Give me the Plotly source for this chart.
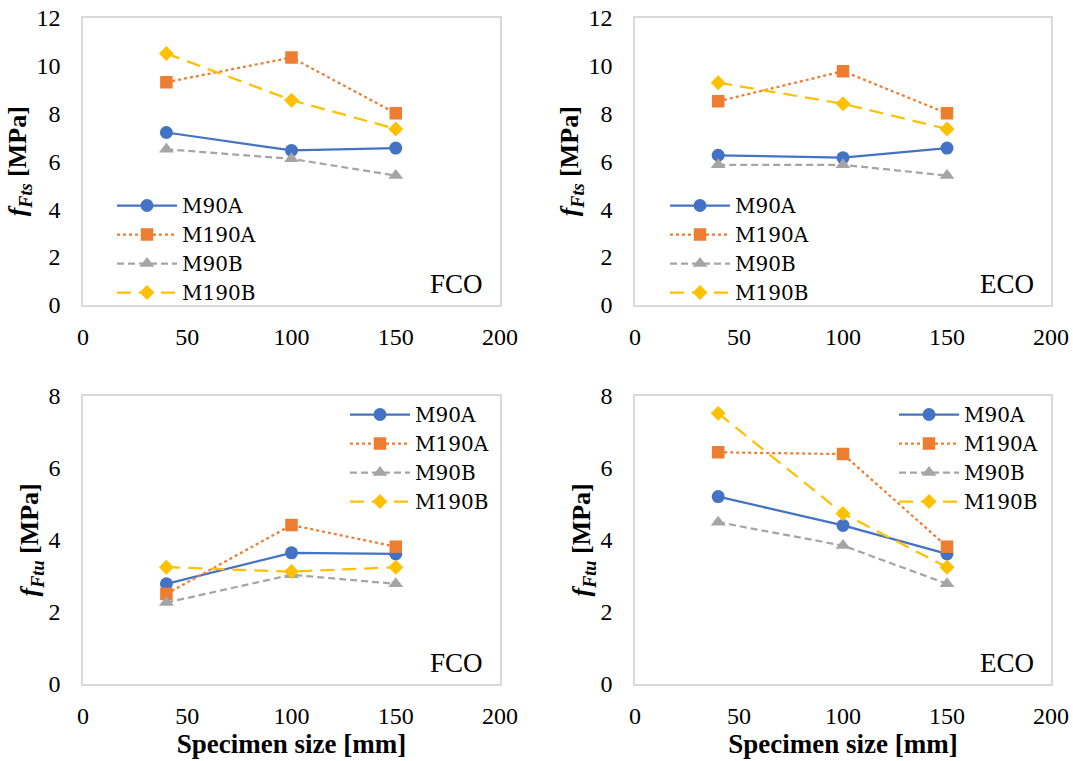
import plotly.graph_objects as go

# ---------------- data ----------------
sizes = [40, 100, 150]
series_names = ["M90A", "M190A", "M90B", "M190B"]

fco_fts_M90A = [7.2, 6.45, 6.55]
fco_fts_M190A = [9.3, 10.33, 8.0]
fco_fts_M90B = [6.5, 6.1, 5.4]
fco_fts_M190B = [10.5, 8.55, 7.35]

eco_fts_M90A = [6.25, 6.15, 6.55]
eco_fts_M190A = [8.5, 9.76, 8.0]
eco_fts_M90B = [5.85, 5.85, 5.4]
eco_fts_M190B = [9.28, 8.4, 7.35]

fco_ftu_M90A = [2.78, 3.64, 3.61]
fco_ftu_M190A = [2.5, 4.41, 3.81]
fco_ftu_M90B = [2.26, 3.03, 2.78]
fco_ftu_M190B = [3.24, 3.12, 3.24]

eco_ftu_M90A = [5.2, 4.4, 3.61]
eco_ftu_M190A = [6.43, 6.38, 3.81]
eco_ftu_M90B = [4.49, 3.84, 2.78]
eco_ftu_M190B = [7.51, 4.73, 3.24]

x_ticks = [0, 50, 100, 150, 200]
fts_ticks = [0, 2, 4, 6, 8, 10, 12]
ftu_ticks = [0, 2, 4, 6, 8]
panel_labels = ["FCO", "ECO", "FCO", "ECO"]

# ---------------- styles ----------------
styles = {
    "M90A": dict(color="#4472C4", dash="solid", symbol="circle", msize=13),
    "M190A": dict(color="#ED7D31", dash="dot", symbol="square", msize=12.5),
    "M90B": dict(color="#A5A5A5", dash="7px,4px", symbol="triangle-up", msize=13),
    "M190B": dict(color="#FFC000", dash="14px,8px", symbol="diamond", msize=11.5),
}

panels = [
    dict(data=[fco_fts_M90A, fco_fts_M190A, fco_fts_M90B, fco_fts_M190B], xa="x", ya="y", legend="legend"),
    dict(data=[eco_fts_M90A, eco_fts_M190A, eco_fts_M90B, eco_fts_M190B], xa="x2", ya="y2", legend="legend2"),
    dict(data=[fco_ftu_M90A, fco_ftu_M190A, fco_ftu_M90B, fco_ftu_M190B], xa="x3", ya="y3", legend="legend3"),
    dict(data=[eco_ftu_M90A, eco_ftu_M190A, eco_ftu_M90B, eco_ftu_M190B], xa="x4", ya="y4", legend="legend4"),
]

W, H = 1073, 761
FONT = "Liberation Serif"
LEG_FONT = "DejaVu Serif"

fig = go.Figure()
for p in panels:
    for name, vals in zip(series_names, p["data"]):
        s = styles[name]
        fig.add_trace(go.Scatter(
            x=sizes, y=vals, name=name, mode="lines+markers",
            xaxis=p["xa"], yaxis=p["ya"], legend=p["legend"],
            line=dict(color=s["color"], width=2.25, dash=s["dash"]),
            marker=dict(symbol=s["symbol"], size=s["msize"], color=s["color"],
                        line=dict(width=0)),
        ))

# domains in pixels
left_x = (83, 500)
right_x = (635, 1051)
top_y = (17.5, 305)
bot_y = (395.7, 684)


def xd(a):
    return [a[0] / W, a[1] / W]


def yd(a):
    return [1 - a[1] / H, 1 - a[0] / H]


tick_font = dict(family=FONT, size=24, color="#000000")
axis_common = dict(showline=True, mirror=True, linecolor="#D9D9D9", linewidth=1.5,
                   showgrid=False, zeroline=False, ticks="", tickfont=tick_font,
                   automargin=False)

fts_title = "<b><i>f</i><sub><i>Fts</i></sub> [MPa]</b>"
ftu_title = "<b><i>f</i><sub><i>Ftu</i></sub> [MPa]</b>"
x_title = "<b>Specimen size [mm]</b>"

layout = dict(
    width=W, height=H, margin=dict(l=0, r=0, t=0, b=0, autoexpand=False),
    paper_bgcolor="white", plot_bgcolor="white",
    font=dict(family=FONT, color="#000000"),
)

axes_cfg = [
    ("xaxis", "yaxis", left_x, top_y, fts_ticks, fts_title, None),
    ("xaxis2", "yaxis2", right_x, top_y, fts_ticks, fts_title, None),
    ("xaxis3", "yaxis3", left_x, bot_y, ftu_ticks, ftu_title, x_title),
    ("xaxis4", "yaxis4", right_x, bot_y, ftu_ticks, ftu_title, x_title),
]
for i, (xk, yk, xr, yr, yt, ytitle, xtitle) in enumerate(axes_cfg):
    anchor_y = "y" if i == 0 else f"y{i+1}"
    anchor_x = "x" if i == 0 else f"x{i+1}"
    xcfg = dict(axis_common, domain=xd(xr), anchor=anchor_y, range=[0, 200],
                tickvals=x_ticks, ticklabelstandoff=9)
    if xtitle:
        xcfg["title"] = dict(text=xtitle, font=dict(family=FONT, size=27, color="#000"),
                             standoff=2)
    layout[xk] = xcfg
    layout[yk] = dict(axis_common, domain=yd(yr), anchor=anchor_x,
                      range=[0, yt[-1]], tickvals=yt, ticklabelstandoff=16,
                      title=dict(text=ytitle, font=dict(family=FONT, size=26, color="#000"),
                                 standoff=2))

# legends
leg_font = dict(family=LEG_FONT, size=20, color="#000000")
leg_pos = [(112, 186), (665, 186), (345, 395), (894, 395)]
for i, (lx, ly) in enumerate(leg_pos):
    key = "legend" if i == 0 else f"legend{i+1}"
    layout[key] = dict(x=lx / W, y=1 - ly / H, xanchor="left", yanchor="top",
                       xref="paper", yref="paper",
                       bgcolor="rgba(0,0,0,0)", borderwidth=0, font=leg_font,
                       itemwidth=60, tracegroupgap=0)

fig.update_layout(**layout)

# panel labels
ann_refs = [("x domain", "y domain"), ("x2 domain", "y2 domain"),
            ("x3 domain", "y3 domain"), ("x4 domain", "y4 domain")]
for (xr, yr), txt in zip(ann_refs, panel_labels):
    fig.add_annotation(text=txt, xref=xr, yref=yr, x=0.965, y=0.073,
                       xanchor="right", yanchor="middle", showarrow=False,
                       font=dict(family=FONT, size=27, color="#000000"))

fig.write_html("out.html")
